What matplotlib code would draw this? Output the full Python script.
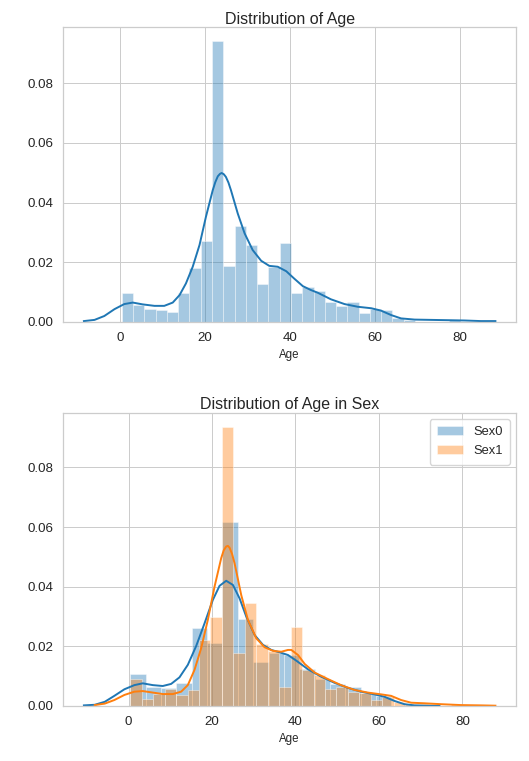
#!/usr/bin/env python3
"""Age distribution, overall and split by sex (distplot-style: density hist + kde)."""

import matplotlib
matplotlib.use("Agg")
import matplotlib.pyplot as plt
import numpy as np

# ---- data ----
# overall: 30 bins over [0.42, 80]
age_min, age_max, age_bins = 0.42, 80.0, 30
age_density = [0.0098, 0.0056, 0.0043, 0.0039, 0.0034, 0.0098, 0.0180, 0.0272, 0.0940, 0.0189,
               0.0320, 0.0257, 0.0126, 0.0185, 0.0266, 0.0096, 0.0118, 0.0105, 0.0067, 0.0053,
               0.0066, 0.0031, 0.0044, 0.0039, 0.0013, 0.0005, 0.0, 0.0, 0.0, 0.0005]
age_kde_x = [-8.5, -6.0, -3.7, -1.3, 1.0, 3.0, 5.3, 8.1, 10.4, 12.4, 14.0, 15.5, 17.1, 18.7,
             20.2, 21.8, 22.4, 23.0, 23.5, 23.9, 24.4, 24.9, 25.5, 26.1, 27.7, 29.3, 31.2,
             33.2, 35.1, 37.1, 39.1, 41.0, 43.0, 44.9, 46.5, 49.6, 52.8, 55.9, 59.1, 61.4,
             63.8, 66.1, 69.3, 73.2, 77.1, 81.0, 84.9, 88.3]
age_kde_y = [0.0003, 0.0007, 0.0020, 0.0043, 0.0060, 0.0065, 0.0059, 0.0054, 0.0054, 0.0065,
             0.0090, 0.0129, 0.0185, 0.0258, 0.0352, 0.0441, 0.0468, 0.0488, 0.0496, 0.0499,
             0.0495, 0.0486, 0.0467, 0.0441, 0.0363, 0.0297, 0.0241, 0.0205, 0.0188, 0.0185,
             0.0170, 0.0145, 0.0120, 0.0107, 0.0098, 0.0076, 0.0060, 0.0051, 0.0046, 0.0038,
             0.0023, 0.0012, 0.0008, 0.0007, 0.0006, 0.0005, 0.0003, 0.0003]

# Sex0: 17 bins over [0.42, 62.98]
sex0_min, sex0_max, sex0_bins = 0.42, 62.98, 17
sex0_density = [0.0106, 0.0065, 0.0059, 0.0076, 0.0263, 0.0212, 0.0618, 0.0291, 0.0149,
                0.0178, 0.0172, 0.0125, 0.0090, 0.0075, 0.0062, 0.0045, 0.0034]
sex0_kde_x = [-10.7, -8.1, -5.7, -3.4, -1.0, 1.4, 3.4, 5.8, 8.2, 10.2, 12.2, 14.2, 16.2, 18.2,
              20.2, 21.8, 23.4, 25.0, 26.6, 28.2, 30.2, 32.2, 34.2, 36.2, 38.2, 40.2, 43.0,
              46.2, 49.3, 52.5, 55.7, 58.9, 61.3, 63.7, 66.1, 68.5, 71.7, 74.5]
sex0_kde_y = [0.0002, 0.0004, 0.0014, 0.0034, 0.0056, 0.0070, 0.0076, 0.0070, 0.0067, 0.0074,
              0.0096, 0.0138, 0.0201, 0.0277, 0.0356, 0.0403, 0.0420, 0.0406, 0.0361, 0.0300,
              0.0238, 0.0205, 0.0188, 0.0180, 0.0171, 0.0152, 0.0123, 0.0098, 0.0078, 0.0061,
              0.0048, 0.0039, 0.0031, 0.0017, 0.0006, 0.0002, 0.0001, 0.0]

# Sex1: 29 bins over [0.42, 80]
sex1_min, sex1_max, sex1_bins = 0.42, 80.0, 29
sex1_density = [0.0091, 0.0022, 0.0040, 0.0056, 0.0037, 0.0054, 0.0221, 0.0300, 0.0937, 0.0177,
                0.0345, 0.0207, 0.0185, 0.0065, 0.0264, 0.0121, 0.0104, 0.0056, 0.0065, 0.0048,
                0.0043, 0.0020, 0.0031, 0.0015, 0.0008, 0.0008, 0.0, 0.0, 0.0005]
sex1_kde_x = [-8.1, -5.7, -3.4, -1.0, 1.4, 3.4, 5.8, 8.2, 10.6, 12.6, 14.2, 15.8, 17.4, 19.0,
              20.6, 22.2, 22.8, 23.4, 23.8, 24.2, 24.8, 25.4, 27.0, 28.6, 30.6, 32.6, 34.6,
              36.6, 38.2, 39.0, 40.6, 42.2, 44.6, 47.8, 50.9, 54.1, 57.3, 60.5, 62.9, 65.3,
              67.7, 70.9, 74.9, 79.7, 84.5, 87.9]
sex1_kde_y = [0.0003, 0.0008, 0.0020, 0.0037, 0.0048, 0.0050, 0.0045, 0.0040, 0.0040, 0.0048,
              0.0070, 0.0121, 0.0194, 0.0289, 0.0400, 0.0496, 0.0522, 0.0535, 0.0537, 0.0531,
              0.0510, 0.0479, 0.0372, 0.0289, 0.0227, 0.0197, 0.0185, 0.0182, 0.0188, 0.0188,
              0.0171, 0.0141, 0.0112, 0.0090, 0.0070, 0.0054, 0.0045, 0.0039, 0.0034, 0.0020,
              0.0011, 0.0009, 0.0006, 0.0003, 0.0002, 0.0001]

BLUE, ORANGE = "#1f77b4", "#ff7f0e"
TXT = "#262626"

plt.rcParams.update({
    "font.family": ["Liberation Sans", "DejaVu Sans"],
    "text.color": TXT, "axes.labelcolor": TXT,
    "xtick.color": TXT, "ytick.color": TXT,
    "axes.edgecolor": "#cccccc", "axes.linewidth": 0.9,
    "grid.color": "#cccccc", "grid.linewidth": 0.72,
    "xtick.major.size": 0, "ytick.major.size": 0,
    "xtick.major.pad": 7.3, "ytick.major.pad": 7.3,
})


def hist_bars(ax, lo, hi, nbins, dens, color, label=None):
    edges = np.linspace(lo, hi, nbins + 1)
    ax.bar(edges[:-1], dens, width=np.diff(edges), align="edge", color=color, alpha=0.4,
           edgecolor="white", linewidth=0.7, label=label)


def style(ax, title):
    ax.set_axisbelow(True)
    ax.grid(True)
    ax.set_ylim(0, None)
    ax.set_xticks([0, 20, 40, 60, 80])
    ax.set_yticks([0.0, 0.02, 0.04, 0.06, 0.08])
    ax.set_yticklabels(["0.00", "0.02", "0.04", "0.06", "0.08"])
    ax.tick_params(labelsize=9.6)
    ax.set_xlabel("Age", fontsize=8.3, labelpad=3.5)
    ax.set_title(title, fontsize=11.5, pad=2.5)


fig = plt.figure(figsize=(5.29, 7.61), dpi=100)
ax1 = fig.add_axes([0.1197, 0.5769, 0.8557, 0.3872])
ax2 = fig.add_axes([0.1197, 0.0723, 0.8557, 0.3854])

hist_bars(ax1, age_min, age_max, age_bins, age_density, BLUE)
ax1.plot(age_kde_x, age_kde_y, color=BLUE, lw=1.4)
ax1.margins(x=0.05, y=0.05)
style(ax1, "Distribution of Age")

hist_bars(ax2, sex0_min, sex0_max, sex0_bins, sex0_density, BLUE, "Sex0")
ax2.plot(sex0_kde_x, sex0_kde_y, color=BLUE, lw=1.4)
hist_bars(ax2, sex1_min, sex1_max, sex1_bins, sex1_density, ORANGE, "Sex1")
ax2.plot(sex1_kde_x, sex1_kde_y, color=ORANGE, lw=1.4)
ax2.margins(x=0.05, y=0.05)
style(ax2, "Distribution of Age in Sex")
ax2.legend(loc="upper right", fontsize=9.3, frameon=True, edgecolor="#cccccc",
           handlelength=2.0, labelspacing=0.55, borderpad=0.55, borderaxespad=0.5)

fig.savefig("out.png", dpi=100)
